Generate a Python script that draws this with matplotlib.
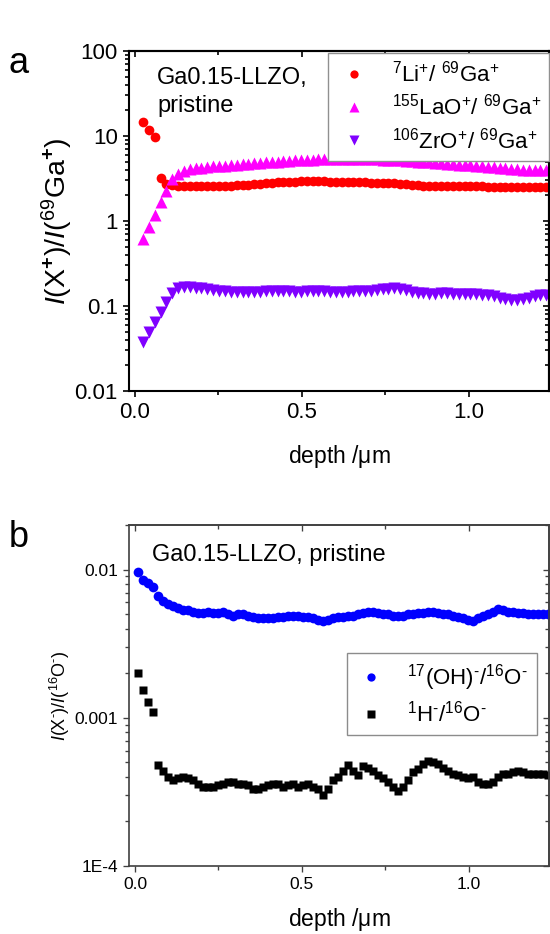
import numpy as np
import matplotlib
matplotlib.use("Agg")
import matplotlib.pyplot as plt
from matplotlib.ticker import FixedLocator, FixedFormatter, LogLocator, NullFormatter

plt.rcParams['font.family'] = ['Liberation Sans', 'DejaVu Sans']
plt.rcParams['mathtext.fontset'] = 'custom'
plt.rcParams['mathtext.rm'] = 'Liberation Sans'
plt.rcParams['mathtext.it'] = 'Liberation Sans:italic'
plt.rcParams['mathtext.bf'] = 'Liberation Sans:bold'

# ---- panel a: positive ions, ratio to 69Ga+ ----
depth_a = [0.024, 0.042, 0.059, 0.077, 0.094, 0.112, 0.129, 0.147, 0.164, 0.182,
           0.199, 0.217, 0.234, 0.252, 0.269, 0.287, 0.304, 0.322, 0.339, 0.357,
           0.374, 0.392, 0.409, 0.427, 0.444, 0.462, 0.479, 0.497, 0.514, 0.532,
           0.549, 0.567, 0.584, 0.602, 0.619, 0.637, 0.654, 0.672, 0.689, 0.707,
           0.724, 0.742, 0.759, 0.777, 0.794, 0.812, 0.829, 0.847, 0.864, 0.882,
           0.899, 0.917, 0.934, 0.952, 0.969, 0.987, 1.004, 1.022, 1.039, 1.057,
           1.074, 1.092, 1.109, 1.127, 1.144, 1.162, 1.179, 1.197, 1.214, 1.232]

li = [14.6, 11.8, 9.7, 3.2, 2.72, 2.62, 2.6, 2.58, 2.57, 2.56,
      2.55, 2.55, 2.56, 2.57, 2.58, 2.6, 2.62, 2.65, 2.68, 2.72,
      2.76, 2.8, 2.83, 2.86, 2.88, 2.9, 2.91, 2.92, 2.93, 2.93,
      2.92, 2.92, 2.91, 2.9, 2.9, 2.89, 2.88, 2.86, 2.84, 2.82,
      2.8, 2.8, 2.79, 2.78, 2.76, 2.72, 2.67, 2.62, 2.58, 2.57,
      2.57, 2.58, 2.58, 2.59, 2.58, 2.57, 2.56, 2.55, 2.55, 2.54,
      2.53, 2.53, 2.52, 2.51, 2.5, 2.5, 2.49, 2.49, 2.48, 2.48]

lao = [0.61, 0.85, 1.18, 1.67, 2.27, 3.1, 3.57, 3.87, 4.05, 4.15,
       4.25, 4.32, 4.38, 4.43, 4.48, 4.53, 4.58, 4.63, 4.7, 4.76,
       4.82, 4.88, 4.94, 5.0, 5.05, 5.1, 5.15, 5.2, 5.24, 5.28,
       5.32, 5.35, 5.38, 5.4, 5.42, 5.42, 5.4, 5.38, 5.35, 5.32,
       5.3, 5.28, 5.25, 5.22, 5.18, 5.12, 5.06, 5.0, 4.94, 4.88,
       4.82, 4.76, 4.7, 4.65, 4.6, 4.55, 4.5, 4.45, 4.4, 4.35,
       4.3, 4.24, 4.18, 4.12, 4.06, 4.0, 3.96, 3.94, 3.94, 3.96]

zro = [0.038, 0.049, 0.065, 0.085, 0.112, 0.142, 0.163, 0.168, 0.168, 0.165,
       0.162, 0.158, 0.155, 0.152, 0.15, 0.148, 0.147, 0.146, 0.146, 0.147,
       0.148, 0.149, 0.15, 0.15, 0.15, 0.149, 0.148, 0.148, 0.149, 0.15,
       0.15, 0.149, 0.148, 0.147, 0.147, 0.148, 0.149, 0.15, 0.151, 0.152,
       0.154, 0.157, 0.16, 0.162, 0.16, 0.155, 0.148, 0.143, 0.141, 0.14,
       0.14, 0.141, 0.141, 0.14, 0.139, 0.138, 0.137, 0.137, 0.136, 0.134,
       0.13, 0.125, 0.12, 0.117, 0.117, 0.12, 0.125, 0.13, 0.133, 0.135]

# ---- panel b: negative ions, ratio to 16O- ----
depth_b = [0.008, 0.023, 0.038, 0.053, 0.068, 0.083, 0.098, 0.113, 0.128, 0.143,
           0.158, 0.173, 0.188, 0.203, 0.218, 0.233, 0.248, 0.263, 0.278, 0.293,
           0.308, 0.323, 0.338, 0.353, 0.368, 0.383, 0.398, 0.413, 0.428, 0.443,
           0.458, 0.473, 0.488, 0.503, 0.518, 0.533, 0.548, 0.563, 0.578, 0.593,
           0.608, 0.623, 0.638, 0.653, 0.668, 0.683, 0.698, 0.713, 0.728, 0.743,
           0.758, 0.773, 0.788, 0.803, 0.818, 0.833, 0.848, 0.863, 0.878, 0.893,
           0.908, 0.923, 0.938, 0.953, 0.968, 0.983, 0.998, 1.013, 1.028, 1.043,
           1.058, 1.073, 1.088, 1.103, 1.118, 1.133, 1.148, 1.163, 1.178, 1.193,
           1.208, 1.223, 1.238]

oh = [0.0097, 0.0085, 0.0081, 0.0076, 0.0066, 0.0061, 0.0059, 0.0057, 0.0055, 0.0053,
      0.0053, 0.0052, 0.0051, 0.0051, 0.0052, 0.0051, 0.0051, 0.0052, 0.005, 0.0049,
      0.005, 0.005, 0.0049, 0.0048, 0.0047, 0.0047, 0.0047, 0.0047, 0.0048, 0.0048,
      0.0049, 0.0049, 0.0049, 0.0048, 0.0048, 0.0047, 0.0046, 0.0045, 0.0046, 0.0047,
      0.0048, 0.0048, 0.0049, 0.0049, 0.005, 0.0051, 0.0052, 0.0052, 0.0051, 0.005,
      0.005, 0.0049, 0.0049, 0.0049, 0.005, 0.005, 0.0051, 0.0051, 0.0052, 0.0052,
      0.0051, 0.005, 0.005, 0.0049, 0.0048, 0.0047, 0.0046, 0.0045, 0.0047, 0.0049,
      0.005, 0.0052, 0.0054, 0.0053, 0.0052, 0.0052, 0.0051, 0.0051, 0.005, 0.005,
      0.005, 0.005, 0.005]

h = [0.00202, 0.00154, 0.00128, 0.0011, 0.00048, 0.00044, 0.0004, 0.00038, 0.00039, 0.0004,
     0.00039, 0.00038, 0.00036, 0.00034, 0.00034, 0.00034, 0.00035, 0.00036, 0.00037, 0.00037,
     0.00036, 0.00036, 0.00035, 0.00033, 0.00033, 0.00034, 0.00035, 0.00036, 0.00036, 0.00034,
     0.00035, 0.00036, 0.00034, 0.00035, 0.00036, 0.00034, 0.00033, 0.0003, 0.00033, 0.00038,
     0.0004, 0.00044, 0.00048, 0.00044, 0.00041, 0.00047, 0.00046, 0.00044, 0.00041, 0.00039,
     0.00037, 0.00034, 0.00032, 0.00034, 0.00038, 0.00043, 0.00045, 0.00049, 0.00051, 0.0005,
     0.00049, 0.00046, 0.00044, 0.00042, 0.00041, 0.0004, 0.00039, 0.0004, 0.00037, 0.00036,
     0.00036, 0.00037, 0.0004, 0.00042, 0.00042, 0.00043, 0.00044, 0.00043, 0.00042, 0.00042,
     0.00042, 0.00042, 0.00041]

xticks = [0.0, 0.5, 1.0]
xticklabels = ['0.0', '0.5', '1.0']
yticks_a = [0.01, 0.1, 1, 10, 100]
yticklabels_a = ['0.01', '0.1', '1', '10', '100']
yticks_b = [1e-4, 1e-3, 1e-2]
yticklabels_b = ['1E-4', '0.001', '0.01']

HY = '\u2010'  # short hyphen used as superscript minus in the original

W, H = 550, 934
fig = plt.figure(figsize=(W / 100, H / 100), dpi=100)


def px_axes(l, t, r, b):
    return fig.add_axes([l / W, 1 - b / H, (r - l) / W, (b - t) / H])


def style_axes(ax, spine_col, lw, fs, ylim, yt, ytl):
    ax.set_yscale('log')
    ax.set_xlim(-0.018, 1.24)
    ax.set_ylim(*ylim)
    for s in ax.spines.values():
        s.set_color(spine_col)
        s.set_linewidth(lw)
    ax.xaxis.set_major_locator(FixedLocator(xticks))
    ax.xaxis.set_major_formatter(FixedFormatter(xticklabels))
    ax.xaxis.set_minor_locator(FixedLocator([0.25, 0.75]))
    ax.yaxis.set_major_locator(FixedLocator(yt))
    ax.yaxis.set_major_formatter(FixedFormatter(ytl))
    ax.yaxis.set_minor_locator(LogLocator(base=10, subs=range(2, 10)))
    ax.yaxis.set_minor_formatter(NullFormatter())
    ax.tick_params(which='both', direction='out', color=spine_col, width=lw * 0.8,
                   labelsize=fs, top=False, right=False)
    ax.tick_params(which='major', length=4.5)
    ax.tick_params(which='minor', length=3)
    # mirrored ticks pointing inward
    sx = ax.secondary_xaxis('top')
    sx.xaxis.set_major_locator(FixedLocator(xticks))
    sx.xaxis.set_minor_locator(FixedLocator([0.25, 0.75]))
    sx.tick_params(which='both', direction='in', labeltop=False, color=spine_col, width=lw * 0.8)
    sx.tick_params(which='major', length=4.5)
    sx.tick_params(which='minor', length=3)
    sx.spines['top'].set_color(spine_col)
    sx.spines['top'].set_linewidth(lw)
    sy = ax.secondary_yaxis('right')
    sy.yaxis.set_major_locator(FixedLocator(yt))
    sy.yaxis.set_minor_locator(LogLocator(base=10, subs=range(2, 10)))
    sy.yaxis.set_minor_formatter(NullFormatter())
    sy.tick_params(which='both', direction='in', labelright=False, color=spine_col, width=lw * 0.8)
    sy.tick_params(which='major', length=4.5)
    sy.tick_params(which='minor', length=3)
    sy.spines['right'].set_color(spine_col)
    sy.spines['right'].set_linewidth(lw)


# panel a
ax1 = px_axes(129, 51, 549, 391)
style_axes(ax1, 'black', 1.5, 16, (0.01, 100), yticks_a, yticklabels_a)
ax1.plot(depth_a, li, 'o', color='#ff0000', ms=7, mec='none',
         label=r'$^{7}$Li$^{+}$/ $^{69}$Ga$^{+}$')
ax1.plot(depth_a, lao, '^', color='#ff00ff', ms=8, mec='none',
         label=r'$^{155}$LaO$^{+}$/ $^{69}$Ga$^{+}$')
ax1.plot(depth_a, zro, 'v', color='#8000ff', ms=8, mec='none',
         label=r'$^{106}$ZrO$^{+}$/ $^{69}$Ga$^{+}$')
ax1.set_xlabel(r'depth /$\mathrm{\mu}$m', fontsize=16.5, labelpad=14)
ax1.set_ylabel(r'$\mathit{I}$(X$^{\mathbf{+}}$)/$\mathit{I}$($^{69}$Ga$^{\mathbf{+}}$)',
               fontsize=20.5, labelpad=0)
ax1.text(0.067, (391 - 84) / 340, 'Ga0.15-LLZO,', transform=ax1.transAxes,
         fontsize=17, va='baseline', ha='left')
ax1.text(0.067, (391 - 112) / 340, 'pristine', transform=ax1.transAxes,
         fontsize=17, va='baseline', ha='left')
leg1 = ax1.legend(loc='upper right', bbox_to_anchor=(1.0, 0.994), fontsize=16,
                  borderaxespad=0, frameon=True, fancybox=False, handletextpad=0.9,
                  handlelength=1.6, labelspacing=0.33, borderpad=0.35, markerscale=0.85)
leg1.get_frame().set_edgecolor('#909090')
leg1.get_frame().set_linewidth(1.0)
leg1.get_frame().set_alpha(1)

# panel b
ax2 = px_axes(129, 525, 549, 866)
style_axes(ax2, '#404040', 1.2, 12.5, (1e-4, 0.02), yticks_b, yticklabels_b)
ax2.plot(depth_b, oh, 'o', color='#0000ff', ms=7, mec='none',
         label=r'$^{17}$(OH)$^{' + HY + r'}$/$^{16}$O$^{' + HY + r'}$')
ax2.plot(depth_b, h, 's', color='black', ms=6, mec='none',
         label=r'$^{1}$H$^{' + HY + r'}$/$^{16}$O$^{' + HY + r'}$')
ax2.set_xlabel(r'depth /$\mathrm{\mu}$m', fontsize=16.5, labelpad=10)
ax2.set_ylabel(r'$\mathit{I}$(X$^{' + HY + r'}$)/$\mathit{I}$($^{16}$O$^{' + HY + r'}$)',
               fontsize=13, labelpad=2)
ax2.text(0.055, (866 - 561) / 341, 'Ga0.15-LLZO, pristine', transform=ax2.transAxes,
         fontsize=17, va='baseline', ha='left')
leg2 = ax2.legend(loc='upper left', bbox_to_anchor=((347 - 129) / 420, (866 - 653) / 341),
                  fontsize=16, borderaxespad=0, frameon=True, fancybox=False,
                  handletextpad=0.9, handlelength=1.4, labelspacing=0.35, borderpad=0.4,
                  markerscale=0.85)
leg2.get_frame().set_edgecolor('#707070')
leg2.get_frame().set_linewidth(1.0)

fig.text(8 / W, 1 - 73 / H, 'a', fontsize=26, va='baseline', ha='left')
fig.text(9 / W, 1 - 547 / H, 'b', fontsize=26, va='baseline', ha='left')

fig.savefig('out.png', dpi=100, facecolor='white')
